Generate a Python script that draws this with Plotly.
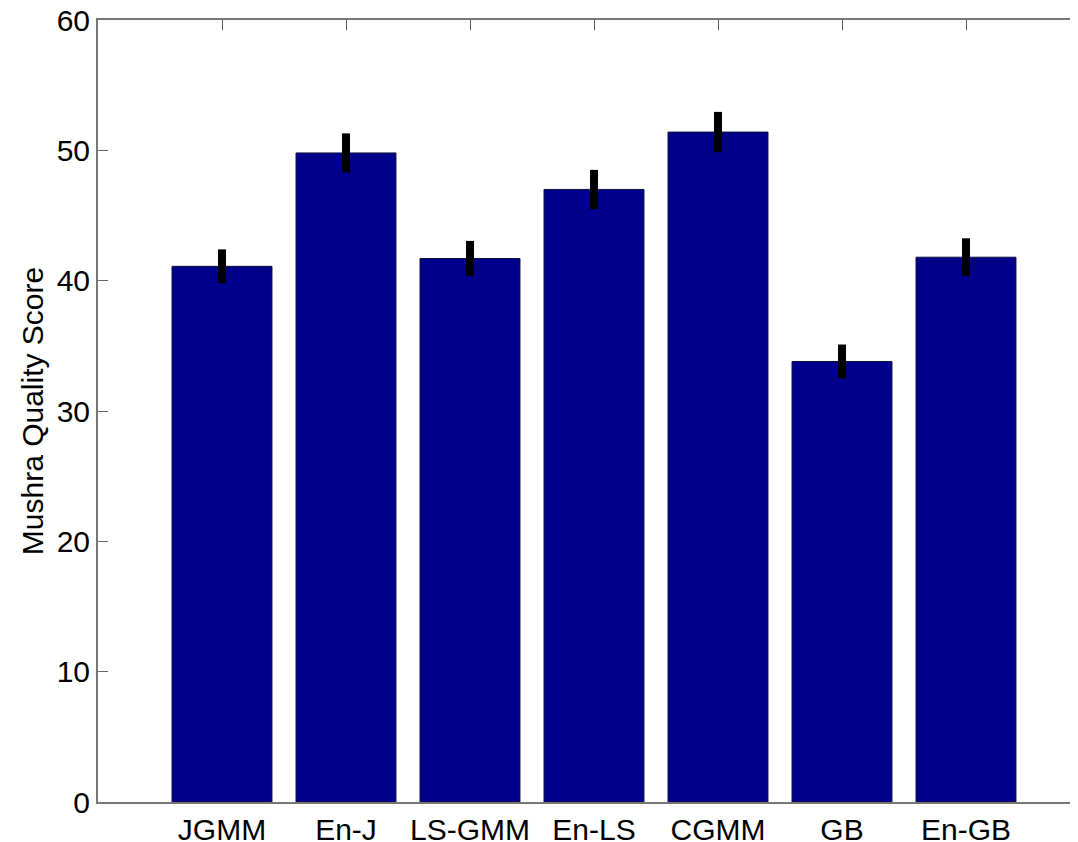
import plotly.graph_objects as go

categories = ["JGMM", "En-J", "LS-GMM", "En-LS", "CGMM", "GB", "En-GB"]
scores = [41.1, 49.8, 41.7, 47.0, 51.4, 33.8, 41.8]
errors = [1.3, 1.5, 1.35, 1.5, 1.55, 1.3, 1.45]
positions = [1, 2, 3, 4, 5, 6, 7]
y_ticks = [0, 10, 20, 30, 40, 50, 60]

font_family = "Liberation Sans, Arial, sans-serif"

fig = go.Figure()
fig.add_trace(go.Bar(
    x=positions,
    y=scores,
    width=0.806,
    marker=dict(color="#00008C", line=dict(color="#10103a", width=1)),
    error_y=dict(type="data", array=errors, visible=True,
                 color="black", thickness=8, width=0),
    showlegend=False,
))

# page body has an 8px default margin, so the figure is offset by 8px
fig.update_layout(
    width=1070, height=834,
    margin=dict(l=90, r=0, t=12, b=40, pad=0),
    paper_bgcolor="white", plot_bgcolor="white",
    font=dict(family=font_family, color="black"),
    xaxis=dict(
        range=[0, 980 / 124],
        tickvals=positions, ticktext=categories,
        ticks="inside", ticklen=10, tickcolor="#555555", tickwidth=1,
        showline=True, linecolor="#777777", linewidth=2,
        mirror="ticks", showgrid=False, zeroline=False,
        tickfont=dict(size=30, family=font_family, color="black"),
        layer="below traces",
        automargin=False,
        ticklabeloverflow="allow",
    ),
    yaxis=dict(
        range=[0, 60],
        tickvals=y_ticks,
        ticks="inside", ticklen=10, tickcolor="#666666", tickwidth=1,
        showline=True, linecolor="#777777", linewidth=2,
        showgrid=False, zeroline=False,
        tickfont=dict(size=30, family=font_family, color="black"),
        title=dict(text="Mushra Quality Score", standoff=4,
                   font=dict(size=30, family=font_family, color="black")),
        automargin=False,
        ticklabeloverflow="allow",
    ),
)

fig.write_html("out.html")
